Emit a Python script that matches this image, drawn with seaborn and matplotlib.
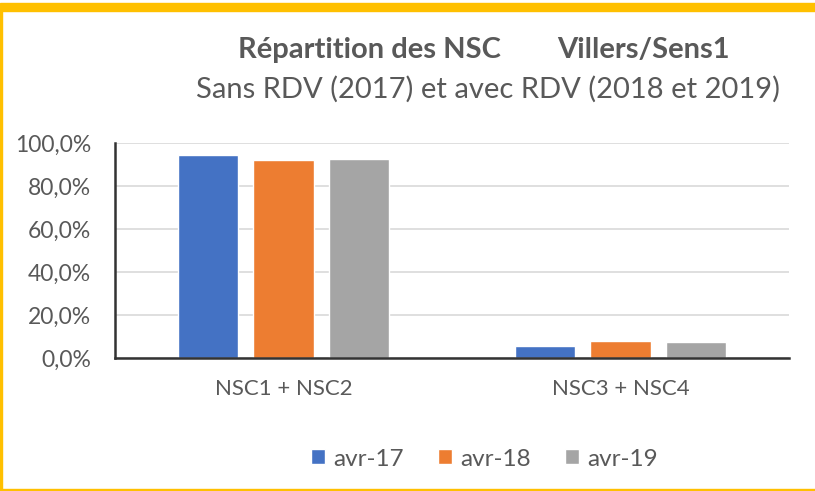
import pandas as pd
import seaborn as sns
import matplotlib.pyplot as plt
from matplotlib.patches import Rectangle
from matplotlib.ticker import FuncFormatter

# Data
categories = ["NSC1 + NSC2", "NSC3 + NSC4"]
periods = ["avr-17", "avr-18", "avr-19"]
avr17 = [0.944, 0.056]
avr18 = [0.921, 0.079]
avr19 = [0.926, 0.074]
colors = ["#4472C4", "#ED7D31", "#A5A5A5"]

df = pd.DataFrame({
    "cat": categories * 3,
    "period": [p for p in periods for _ in categories],
    "val": avr17 + avr18 + avr19,
})

sns.set_style("white")
plt.rcParams["font.family"] = ["Lato", "DejaVu Sans"]
txt = "#595959"

fig = plt.figure(figsize=(8.15, 4.91), dpi=100)
ax = fig.add_axes([0.141, 0.271, 0.827, 0.438])

sns.barplot(data=df, x="cat", y="val", hue="period", palette=colors,
            width=0.67, gap=0.2, saturation=1, ax=ax, legend=True)

ax.set_ylim(0, 1.0)
ax.set_xlim(-0.5, 1.5)
ax.set_yticks([0, 0.2, 0.4, 0.6, 0.8, 1.0])
ax.yaxis.set_major_formatter(FuncFormatter(lambda v, _: f"{v*100:.1f}%".replace(".", ",")))
ax.yaxis.grid(True, color="#D9D9D9", lw=1.2)
ax.set_axisbelow(True)
ax.set_xlabel("")
ax.set_ylabel("")

for s in ["top", "right"]:
    ax.spines[s].set_visible(False)
for s in ["left", "bottom"]:
    ax.spines[s].set_color("#333333")
    ax.spines[s].set_linewidth(1.8)

ax.tick_params(axis="y", length=0, labelsize=16.5, labelcolor=txt, pad=17)
ax.tick_params(axis="x", which="major", length=0, labelsize=16, labelcolor=txt, pad=15)
ax.set_xticks([-0.5, 0.5, 1.5], minor=True)
ax.tick_params(axis="x", which="minor", direction="inout", length=12, width=1.8, color="#333333")

leg = ax.legend(loc="center", bbox_to_anchor=(0.548, -0.47), ncol=3, frameon=False,
                fontsize=17.5, handlelength=0.58, handleheight=0.58, columnspacing=1.4,
                handletextpad=0.33, labelcolor=txt)

fig.text(238 / 815, 1 - 58 / 491, "Répartition des NSC", ha="left", va="baseline",
         fontsize=21, fontweight="bold", color=txt)
fig.text(730 / 815, 1 - 58 / 491, "Villers/Sens1", ha="right", va="baseline",
         fontsize=21, fontweight="bold", color=txt)
fig.text(488 / 815, 1 - 98 / 491, "Sans RDV (2017) et avec RDV (2018 et 2019)", ha="center",
         va="baseline", fontsize=21, color=txt)

# gold frame
gold = "#FFC000"
fig.patches.append(Rectangle((0, 0.978), 1, 0.016, transform=fig.transFigure, color=gold, zorder=0))
fig.patches.append(Rectangle((0, 0.0), 0.003, 0.978, transform=fig.transFigure, color=gold, zorder=0))
fig.patches.append(Rectangle((0, 0.0), 1, 0.005, transform=fig.transFigure, color=gold, zorder=0))

plt.savefig("out.png", dpi=100)
plt.close()
